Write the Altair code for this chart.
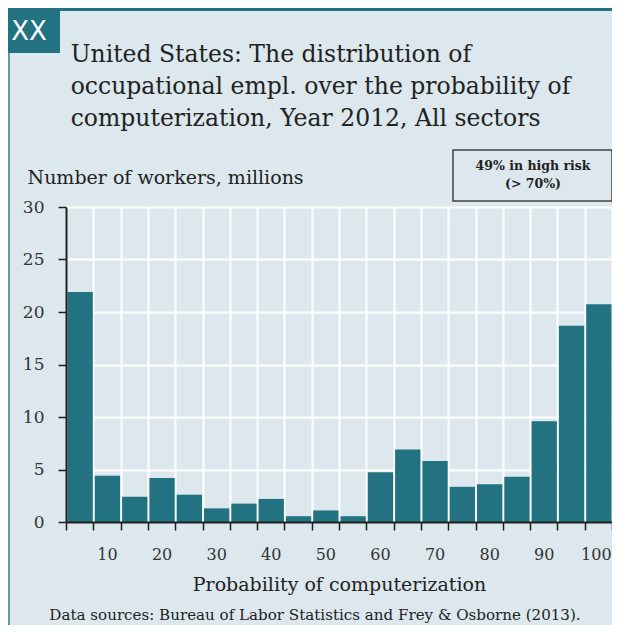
import altair as alt
import pandas as pd

# ---- data ----
bin_start = [0, 5, 10, 15, 20, 25, 30, 35, 40, 45, 50, 55, 60, 65, 70, 75, 80, 85, 90, 95]
bin_end = [5, 10, 15, 20, 25, 30, 35, 40, 45, 50, 55, 60, 65, 70, 75, 80, 85, 90, 95, 100]
workers_millions = [21.9, 4.4, 2.4, 4.2, 2.6, 1.3, 1.75, 2.2, 0.55, 1.1,
                    0.55, 4.75, 6.9, 5.8, 3.35, 3.6, 4.3, 9.6, 18.7, 20.75]

x_edge_ticks = [0, 5, 10, 15, 20, 25, 30, 35, 40, 45, 50, 55, 60, 65, 70, 75, 80, 85, 90, 95, 100]
x_label_pos = [7.5, 17.5, 27.5, 37.5, 47.5, 57.5, 67.5, 77.5, 87.5, 97.5]
x_label_text = ["10", "20", "30", "40", "50", "60", "70", "80", "90", "100"]
y_ticks = [0, 5, 10, 15, 20, 25, 30]

title_lines = ["United States: The distribution of",
               "occupational empl. over the probability of",
               "computerization, Year 2012, All sectors"]
y_title = "Number of workers, millions"
x_title = "Probability of computerization"
source_note = "Data sources: Bureau of Labor Statistics and Frey & Osborne (2013)."
risk_note = ["49% in high risk", "(> 70%)"]
badge = "XX"

# ---- style ----
FONT = "DejaVu Serif"
TEAL = "#227281"
BG = "#dce8ed"
INK = "#1e1e1e"

df = pd.DataFrame({"start": bin_start, "end": bin_end, "workers": workers_millions})

xs = alt.Scale(domain=[0, 100], nice=False, zero=False)
ys = alt.Scale(domain=[0, 30], nice=False)

label_map = "{" + ",".join(f"'{p}':'{t}'" for p, t in zip(x_label_pos, x_label_text)) + "}[datum.value]"
last_label = f"datum.value == {x_label_pos[-1]}"

base = alt.Chart(df)

# bars with white grid behind
bars = base.mark_bar(color=TEAL, binSpacing=2).encode(
    x=alt.X("start:Q", bin="binned", scale=xs,
            axis=alt.Axis(orient="bottom", values=x_edge_ticks, grid=True, gridColor="white",
                          gridWidth=2, gridOpacity=1, labels=False, ticks=False, domain=False,
                          title=None, zindex=0)),
    x2="end:Q",
    y=alt.Y("workers:Q", scale=ys,
            axis=alt.Axis(orient="left", values=y_ticks, grid=True, gridColor="white",
                          gridWidth=2, gridOpacity=1, labels=False, ticks=False, domain=False,
                          title=None, zindex=0)),
)

# front axis lines, ticks, y labels and y title
front = base.mark_bar(opacity=0).encode(
    x=alt.X("start:Q", bin="binned", scale=xs,
            axis=alt.Axis(orient="bottom", values=x_edge_ticks, grid=False, labels=False,
                          ticks=True, tickSize=8, tickColor=INK, tickWidth=1.5,
                          domain=True, domainColor=INK, domainWidth=2, title=None, zindex=1)),
    x2="end:Q",
    y=alt.Y("workers:Q", scale=ys,
            axis=alt.Axis(orient="left", values=y_ticks, grid=False, ticks=True, tickSize=8,
                          tickColor=INK, tickWidth=1.5, domain=True, domainColor=INK,
                          domainWidth=2, labelFont=FONT, labelFontSize=17, labelColor="#333",
                          labelPadding=14, title=y_title, titleAngle=0, titleX=-39, titleY=-24,
                          titleAlign="left", titleBaseline="alphabetic", titleFont=FONT,
                          titleFontSize=19, titleFontWeight="normal", titleColor="#222",
                          zindex=1)),
)

# x labels centred on every second bar, plus x title
xlabels = base.mark_bar(opacity=0).encode(
    x=alt.X("start:Q", bin="binned", scale=xs,
            axis=alt.Axis(orient="bottom", values=x_label_pos, labelExpr=label_map,
                          ticks=False, domain=False, grid=False, labelFont=FONT,
                          labelFontSize=16, labelColor="#333", labelPadding=37,
                          labelOffset={"condition": {"test": last_label, "value": -2.5},
                                       "value": 0},
                          labelBaseline="alphabetic", labelFlush=False, labelOverlap=False,
                          title=x_title, titleFont=FONT, titleFontSize=19,
                          titleFontWeight="normal", titleColor="#222", titleY=68,
                          titleBaseline="alphabetic", zindex=1)),
    x2="end:Q",
    y=alt.Y("workers:Q", scale=ys, axis=None),
)

one = alt.Data(values=[{}])


def rect(x, x2, y, y2, **kw):
    return alt.Chart(one).mark_rect(**kw).encode(
        x=alt.value(x), x2=alt.value(x2), y=alt.value(y), y2=alt.value(y2))


def text(x, y, content, font=FONT, **kw):
    return alt.Chart(one).mark_text(text=content, font=font, **kw).encode(
        x=alt.value(x), y=alt.value(y))


top_line = rect(-58, 546, -199, -196, color=TEAL)
left_line = rect(-58, -56, -199, 418, color="#5e9aa8")
badge_box = rect(-58, -6, -199, -154, color=TEAL)
risk_box = rect(387, 546, -57, -6, fill=BG, fillOpacity=0, stroke="#444", strokeWidth=1.5)

title_txt = text(4.7, -144.7, title_lines, align="left", baseline="alphabetic",
                 fontSize=23.5, lineHeight=32, color="#222")
badge_txt = text(-37, -167, badge, font="DejaVu Sans", align="center", baseline="alphabetic",
                 fontSize=26, color="white")
risk_txt = text(467, -41, risk_note, align="center", baseline="middle",
                fontSize=12.5, fontWeight="bold", lineHeight=18, color="#222")
source_txt = text(249, 413, source_note, align="center", baseline="alphabetic",
                  fontSize=15.1, color="#222")

chart = alt.layer(
    top_line, left_line, badge_box, bars, front, xlabels, risk_box,
    title_txt, badge_txt, risk_txt, source_txt,
).resolve_axis(x="independent", y="independent").properties(
    width=546, height=315,
    padding={"left": 58, "top": 199, "right": 0, "bottom": 103},
    autosize=alt.AutoSizeParams(type="none"),
    background=BG,
).configure_view(stroke=None)

chart.save("out.html", embed_options={"renderer": "svg", "actions": False})
